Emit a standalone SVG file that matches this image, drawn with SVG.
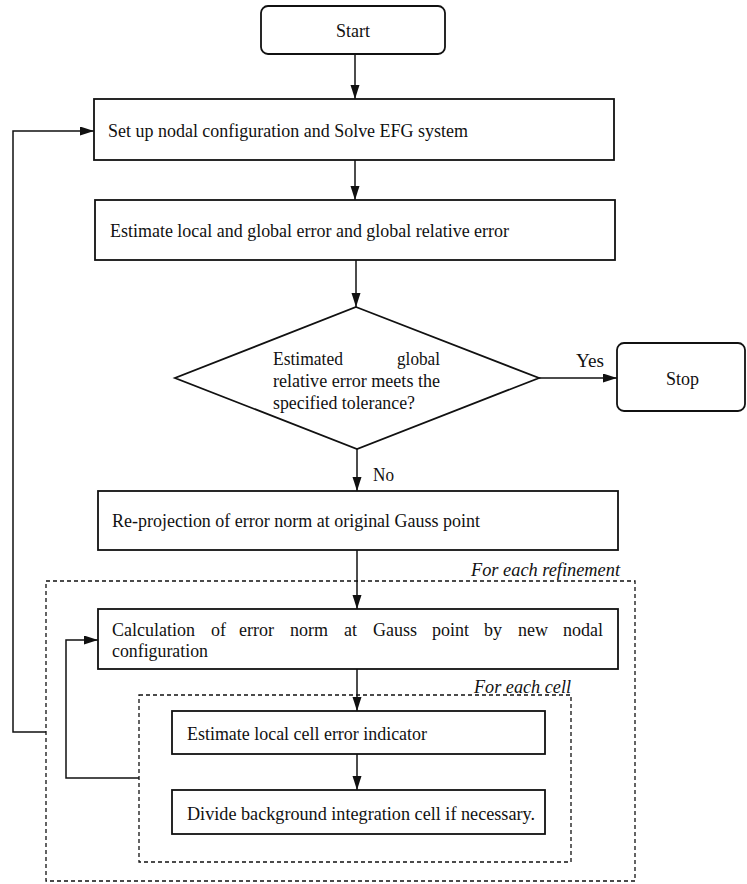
<svg xmlns="http://www.w3.org/2000/svg" width="747" height="884" viewBox="0 0 747 884">
<style>
text{font-family:"Liberation Serif","Times New Roman",serif;font-size:18px;fill:#111}
.it{font-style:italic}
.box{fill:#fff;stroke:#111;stroke-width:1.8}
.ln{fill:none;stroke:#111;stroke-width:1.5}
.dash{fill:none;stroke:#111;stroke-width:1.3;stroke-dasharray:4 3}
</style>
<defs>
<marker id="ah" markerUnits="userSpaceOnUse" markerWidth="15" markerHeight="10" refX="14" refY="4.5" orient="auto">
<path d="M0,0 L14,4.5 L0,9 z" fill="#111"/>
</marker>
</defs>
<rect width="747" height="884" fill="#fff"/>
<g id="loops">
<rect class="dash" x="46" y="581" width="589" height="300"/>
<rect class="dash" x="139" y="695" width="432" height="167"/>
<text class="it" x="620" y="576" text-anchor="end" textLength="149" lengthAdjust="spacingAndGlyphs">For each refinement</text>
<text class="it" x="571" y="693" text-anchor="end" textLength="97" lengthAdjust="spacingAndGlyphs">For each cell</text>
</g>
<g id="connectors">
<line class="ln" x1="355" y1="54" x2="355" y2="99" marker-end="url(#ah)"/>
<line class="ln" x1="355" y1="160" x2="355" y2="200" marker-end="url(#ah)"/>
<line class="ln" x1="356" y1="260" x2="356" y2="307" marker-end="url(#ah)"/>
<line class="ln" x1="539" y1="378" x2="617" y2="378" marker-end="url(#ah)"/>
<line class="ln" x1="357" y1="449" x2="357" y2="491" marker-end="url(#ah)"/>
<line class="ln" x1="357" y1="550" x2="357" y2="609" marker-end="url(#ah)"/>
<line class="ln" x1="357" y1="669" x2="357" y2="711" marker-end="url(#ah)"/>
<line class="ln" x1="357" y1="754" x2="357" y2="790" marker-end="url(#ah)"/>
<polyline class="ln" points="46,732 13,732 13,131 94,131" marker-end="url(#ah)"/>
<polyline class="ln" points="139,778 66,778 66,640 98,640" marker-end="url(#ah)"/>
<text x="576" y="367" textLength="28" lengthAdjust="spacingAndGlyphs">Yes</text>
<text x="373" y="481" textLength="21" lengthAdjust="spacingAndGlyphs">No</text>
</g>
<g id="start">
<rect class="box" x="261" y="6" width="184" height="48" rx="7"/>
<text x="336" y="37" textLength="34" lengthAdjust="spacingAndGlyphs">Start</text>
</g>
<g id="setup">
<rect class="box" x="94" y="99" width="520" height="61"/>
<text x="108" y="137" textLength="360" lengthAdjust="spacingAndGlyphs">Set up nodal configuration and Solve EFG system</text>
</g>
<g id="estimate">
<rect class="box" x="95" y="200" width="520" height="60"/>
<text x="110" y="237" textLength="399" lengthAdjust="spacingAndGlyphs">Estimate local and global error and global relative error</text>
</g>
<g id="decision">
<polygon class="box" points="356,307 539,378 357,449 175,378"/>
<text x="273" y="365" textLength="70" lengthAdjust="spacingAndGlyphs">Estimated</text>
<text x="440" y="365" text-anchor="end" textLength="43" lengthAdjust="spacingAndGlyphs">global</text>
<text x="273" y="387" textLength="167" lengthAdjust="spacingAndGlyphs">relative error meets the</text>
<text x="273" y="409" textLength="142" lengthAdjust="spacingAndGlyphs">specified tolerance?</text>
</g>
<g id="stop">
<rect class="box" x="617" y="343" width="128" height="68" rx="7"/>
<text x="666" y="385" textLength="33" lengthAdjust="spacingAndGlyphs">Stop</text>
</g>
<g id="reprojection">
<rect class="box" x="98" y="491" width="520" height="59"/>
<text x="112" y="527" textLength="368" lengthAdjust="spacingAndGlyphs">Re-projection of error norm at original Gauss point</text>
</g>
<g id="calculation">
<rect class="box" x="98" y="609" width="520" height="60"/>
<text y="636"><tspan x="112">Calculation</tspan><tspan x="211">of</tspan><tspan x="239">error</tspan><tspan x="290">norm</tspan><tspan x="344">at</tspan><tspan x="373">Gauss</tspan><tspan x="432">point</tspan><tspan x="484">by</tspan><tspan x="518">new</tspan><tspan x="563">nodal</tspan></text>
<text x="112" y="657" textLength="96" lengthAdjust="spacingAndGlyphs">configuration</text>
</g>
<g id="cellerror">
<rect class="box" x="172" y="711" width="373" height="43"/>
<text x="187" y="740" textLength="240" lengthAdjust="spacingAndGlyphs">Estimate local cell error indicator</text>
</g>
<g id="divide">
<rect class="box" x="172" y="790" width="373" height="44"/>
<text x="187" y="820" textLength="348" lengthAdjust="spacingAndGlyphs">Divide background integration cell if necessary.</text>
</g>
</svg>
